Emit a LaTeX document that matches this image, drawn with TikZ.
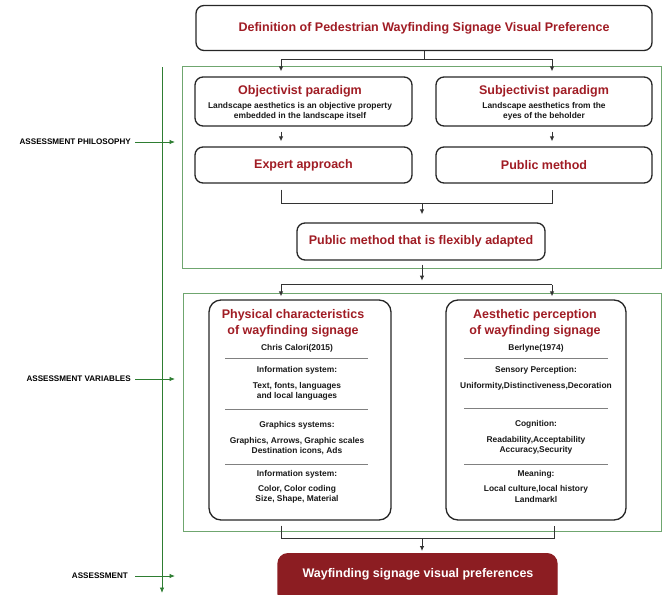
\documentclass[tikz,border=0pt]{standalone}
\usepackage{fontspec}
\setmainfont{Liberation Sans}
\usetikzlibrary{arrows.meta,calc}
\definecolor{myred}{HTML}{A01C24}
\definecolor{boxred}{HTML}{8C1D22}
\definecolor{mygreen}{HTML}{2E7D32}
\definecolor{lightgreen}{HTML}{6FA66F}
\begin{document}
\begin{tikzpicture}[x=1pt,y=-1pt,
  box/.style={draw=black!85, line width=1.3pt, rounded corners=8pt, inner sep=0pt},
  ttl/.style={text=myred, font=\fontsize{12.5}{16}\selectfont\bfseries, align=center, inner sep=0pt},
  sm/.style={font=\fontsize{8.4}{10.2}\selectfont\bfseries, align=center, text=black!90, inner sep=0pt},
  conn/.style={draw=black!80, line width=1pt},
  arr/.style={conn, -{Latex[length=5pt,width=4.6pt]}},
  gbox/.style={draw=lightgreen, line width=1pt},
  garr/.style={draw=mygreen, line width=0.9pt, -{Latex[length=5.5pt,width=4.6pt]}},
  lab/.style={font=\fontsize{8.1}{9}\selectfont\bfseries, anchor=east, inner sep=0pt},
  rule/.style={draw=black!50, line width=1pt}]
\useasboundingbox (0,0) rectangle (668,594);

% green frames
\draw[gbox] (182,66) rectangle (661,268);
\draw[gbox] (183,293) rectangle (661,531);

% column coordinates
\coordinate (cL) at (281,0);
\coordinate (cR) at (552,0);
\coordinate (mid) at (422,0);

% top box
\node[box, minimum width=456pt, minimum height=45pt, ttl] (top) at (424,28) {Definition of Pedestrian Wayfinding Signage Visual Preference};

% paradigm boxes
\node[box, minimum width=217pt, minimum height=49pt] (obj) at (303.5,101.5) {};
\node[box, minimum width=216pt, minimum height=49pt] (subj) at (544,101.5) {};
\node[ttl] (objT) at (300,91) {Objectivist paradigm};
\node[sm] (objS) at (300,111.5) {Landscape aesthetics is an objective property\\embedded in the landscape itself};
\node[ttl] (subjT) at (544,91) {Subjectivist paradigm};
\node[sm] (subjS) at (544,111.5) {Landscape aesthetics from the\\eyes of the beholder};

% method boxes
\node[box, minimum width=217pt, minimum height=36pt, ttl] (exp) at (303.5,165) {Expert approach};
\node[box, minimum width=216pt, minimum height=36pt, ttl] (pub) at (544,165) {Public method};

% flexible
\node[box, minimum width=248pt, minimum height=37pt, ttl] (flex) at (421,241.5) {Public method that is flexibly adapted};

% variable boxes
\node[box, minimum width=182pt, minimum height=220pt, rounded corners=12pt] (phys) at (300,410) {};
\node[box, minimum width=180pt, minimum height=220pt, rounded corners=12pt] (aest) at (536,410) {};

\node[ttl] (physT) at (293,323) {Physical characteristics\\of wayfinding signage};
\node[sm] (p1) at (297,348) {Chris Calori(2015)};
\draw[rule] (225,358) -- (368,358);
\node[sm] (p2) at (297,370) {Information system:};
\node[sm] (p3) at (297,391) {Text, fonts, languages\\and local languages};
\draw[rule] (225,409) -- (368,409);
\node[sm] (p4) at (297,425) {Graphics systems:};
\node[sm] (p5) at (297,446) {Graphics, Arrows, Graphic scales\\Destination icons, Ads};
\draw[rule] (225,464) -- (368,464);
\node[sm] (p6) at (297,474) {Information system:};
\node[sm] (p7) at (297,494) {Color, Color coding\\Size, Shape, Material};

\node[ttl] (aestT) at (535,323) {Aesthetic perception\\of wayfinding signage};
\node[sm] (a1) at (536,348) {Berlyne(1974)};
\draw[rule] (464,358) -- (608,358);
\node[sm] (a2) at (536,370) {Sensory Perception:};
\node[sm] (a3) at (536,386) {Uniformity,Distinctiveness,Decoration};
\draw[rule] (464,408) -- (608,408);
\node[sm] (a4) at (536,424) {Cognition:};
\node[sm] (a5) at (536,445.5) {Readability,Acceptability\\Accuracy,Security};
\draw[rule] (464,464) -- (608,464);
\node[sm] (a6) at (536,474) {Meaning:};
\node[sm] (a7) at (536,494) {Local culture,local history\\Landmarkl};

% final box
\node[box, draw=boxred, fill=boxred, minimum width=279pt, minimum height=50pt, rounded corners=10pt, anchor=north] (fin) at (417.5,553) {};
\node[text=white, font=\fontsize{12.5}{16}\selectfont\bfseries, inner sep=0pt] (finT) at (418,574) {Wayfinding signage visual preferences};

% connectors
\coordinate (j1) at ($(top.south)+(0,8)$);
\draw[conn] (top.south) -- (j1);
\draw[conn] (j1 -| cL) -- (j1 -| cR);
\draw[arr] (j1 -| cL) -- ($(obj.north -| cL)+(0,-5)$);
\draw[arr] (j1 -| cR) -- ($(subj.north -| cR)+(0,-5)$);
\draw[arr, shorten <=5pt] (obj.south -| cL) -- ($(exp.north -| cL)+(0,-5)$);
\draw[arr, shorten <=5pt] (subj.south -| cR) -- ($(pub.north -| cR)+(0,-5)$);

\draw[conn] ($(exp.south -| cL)+(0,6)$) -- ($(exp.south -| cL)+(0,20)$) -- ($(pub.south -| cR)+(0,20)$) -- ($(pub.south -| cR)+(0,6)$);
\draw[arr] ($(exp.south -| mid)+(0,20)$) -- ($(flex.north -| mid)+(0,-8)$);

\coordinate (j2) at ($(flex.south)+(0,24)$);
\draw[arr] ($(flex.south -| mid)+(0,4)$) -- ($(j2 -| mid)+(0,-4)$);
\draw[conn] (j2 -| cL) -- (j2 -| cR);
\draw[arr] (j2 -| cL) -- ($(phys.north -| cL)+(0,-3)$);
\draw[arr] (j2 -| cR) -- ($(aest.north -| cR)+(0,-3)$);

\coordinate (j3) at ($(phys.south)+(0,18)$);
\draw[conn] ($(phys.south -| cL)+(0,5)$) -- (j3 -| cL) -- ($(j3 -| aest.south)+(18,0)$) -- ($(aest.south)+(18,5)$);
\draw[arr] (j3 -| mid) -- ($(fin.north -| mid)+(0,-2)$);

% left axis
\coordinate (axT) at (162,67);
\coordinate (axB) at (162,593);
\draw[garr] (axT) -- (axB);
\node[lab] (l1) at (131,142) {ASSESSMENT PHILOSOPHY};
\node[lab] (l2) at (131,379) {ASSESSMENT VARIABLES};
\node[lab] (l3) at (128,576) {ASSESSMENT};
\draw[garr] ($(l1.east)+(4,0)$) -- (175,142);
\draw[garr] ($(l2.east)+(4,0)$) -- (175,379);
\draw[garr] ($(l3.east)+(7,0)$) -- (175,576);
\end{tikzpicture}
\end{document}
